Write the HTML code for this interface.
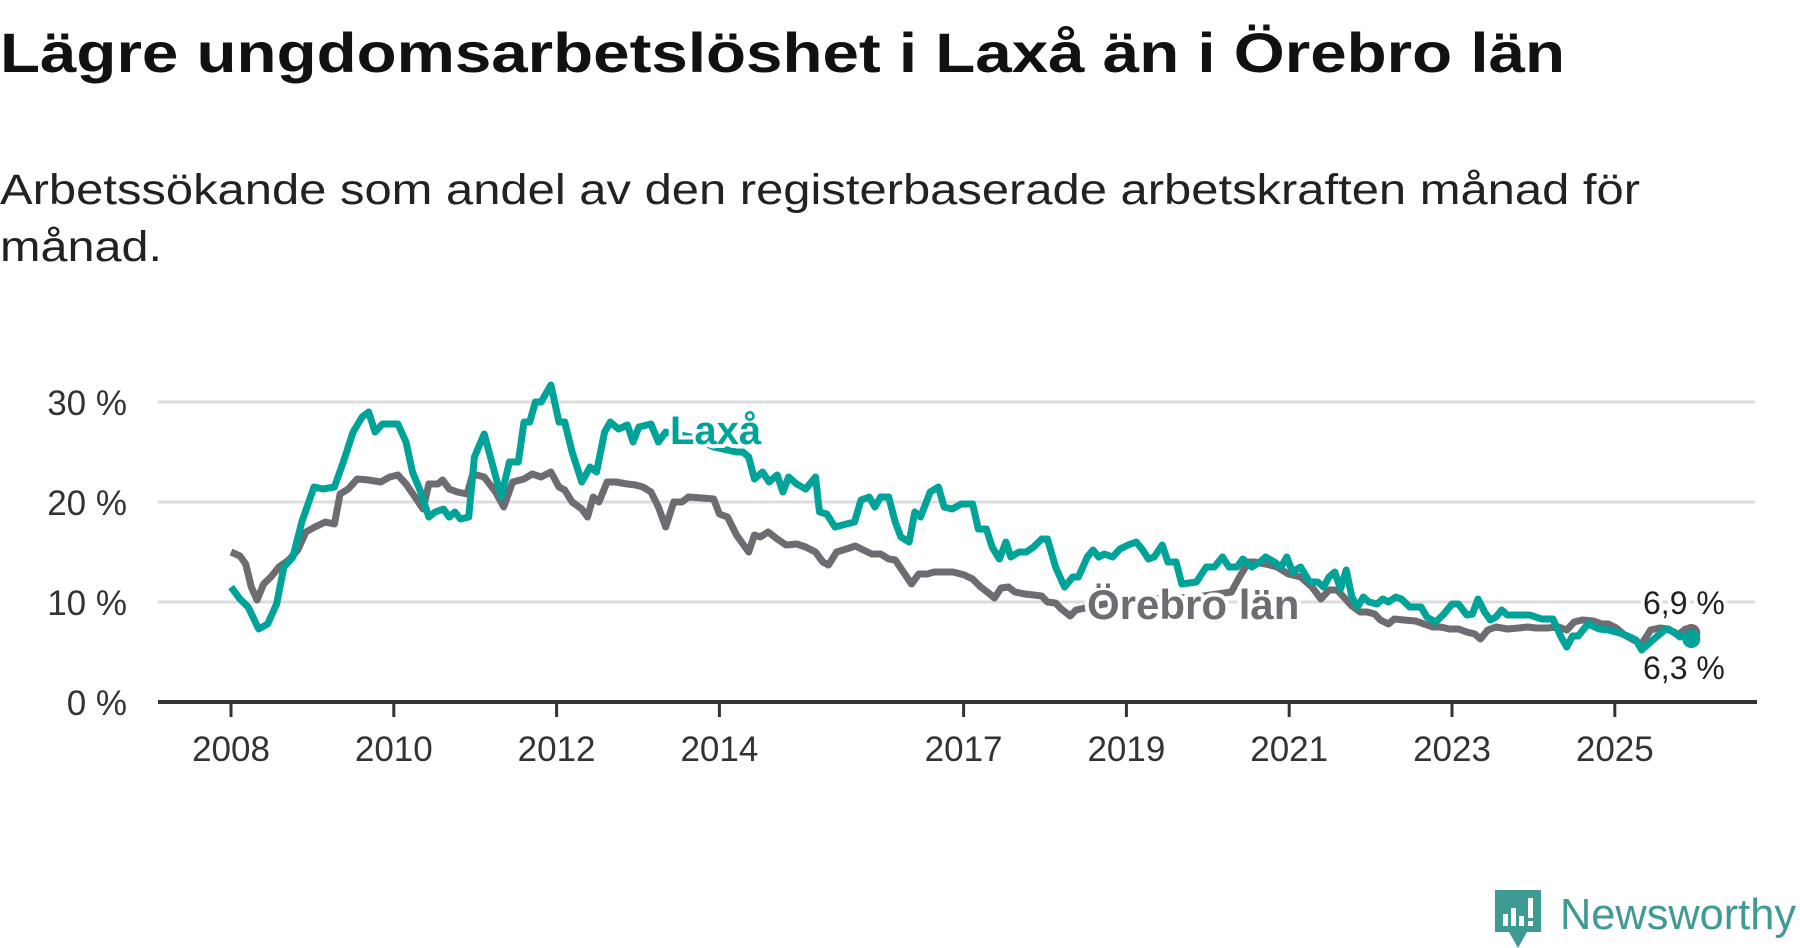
<!DOCTYPE html>
<html><head><meta charset="utf-8"><style>
html,body{margin:0;padding:0;background:#fff;}
svg{display:block;font-family:"Liberation Sans",sans-serif;}
</style></head><body>
<svg id="chart" width="1800" height="948" viewBox="0 0 1800 948">
<text x="0" y="72" font-size="56" font-weight="bold" fill="#111" textLength="1565" lengthAdjust="spacingAndGlyphs">Lägre ungdomsarbetslöshet i Laxå än i Örebro län</text>
<text x="0" y="204" font-size="43" fill="#222" textLength="1640" lengthAdjust="spacingAndGlyphs">Arbetssökande som andel av den registerbaserade arbetskraften månad för</text>
<text x="0" y="261" font-size="43" fill="#222" textLength="162" lengthAdjust="spacingAndGlyphs">månad.</text>
<g id="grid"></g><g id="axes"></g><g id="series"></g><g id="labels"></g>
<g>
<path d="M1495 890 h46 v42 h-14 l-9 16 l-9 -16 h-14 z" fill="#3f9a94"/>
<rect x="1503" y="914" width="5" height="12" fill="#fff"/><rect x="1511" y="908" width="5" height="18" fill="#fff"/><rect x="1519" y="916" width="5" height="10" fill="#fff"/><rect x="1528" y="898" width="5" height="20" fill="#fff"/><rect x="1528" y="921" width="5" height="5" fill="#fff"/>
<text x="1560" y="929" font-size="44" fill="#3f9a94" textLength="236" lengthAdjust="spacingAndGlyphs">Newsworthy</text>
</g>
</svg>
<script>
const yTicks=[0,10,20,30];
const yTickLabels=["0 %","10 %","20 %","30 %"];
const xTicks=[2008,2010,2012,2014,2017,2019,2021,2023,2025];
const laxaT=[0,0.11,0.21,0.34,0.45,0.56,0.65,0.76,0.87,1.02,1.13,1.27,1.38,1.5,1.61,1.69,1.77,1.86,2.05,2.15,2.23,2.33,2.43,2.51,2.61,2.68,2.75,2.82,2.92,2.99,3.11,3.22,3.32,3.42,3.53,3.6,3.67,3.74,3.81,3.93,4.03,4.1,4.19,4.31,4.41,4.49,4.59,4.66,4.76,4.87,4.94,5.01,5.16,5.25,5.34,5.65,5.93,6.21,6.29,6.36,6.43,6.53,6.61,6.71,6.78,6.85,6.95,7.06,7.18,7.23,7.32,7.42,7.56,7.66,7.74,7.84,7.91,7.98,8.08,8.16,8.23,8.33,8.4,8.47,8.59,8.69,8.76,8.86,8.97,9.11,9.18,9.28,9.35,9.44,9.52,9.58,9.68,9.77,9.86,9.96,10.03,10.13,10.24,10.34,10.41,10.52,10.59,10.66,10.73,10.83,10.92,11.02,11.12,11.2,11.27,11.34,11.44,11.51,11.61,11.68,11.86,11.98,12.08,12.18,12.26,12.36,12.43,12.54,12.64,12.71,12.82,12.9,12.97,13.04,13.14,13.25,13.35,13.42,13.49,13.56,13.63,13.7,13.77,13.84,13.91,13.98,14.08,14.15,14.22,14.31,14.38,14.48,14.62,14.69,14.8,14.9,15,15.08,15.18,15.25,15.32,15.4,15.47,15.54,15.61,15.68,15.96,16.1,16.24,16.34,16.41,16.48,16.55,16.67,16.81,16.92,17.06,17.16,17.26,17.33,17.51,17.63,17.73,17.8,17.87,17.94];
const laxaV=[11.5,10.3,9.5,7.3,7.8,9.8,13.5,14.5,18,21.5,21.3,21.5,24,27,28.5,29,27,27.8,27.8,26,23,21,18.5,19,19.3,18.5,19,18.3,18.5,24.5,26.8,23.5,20.5,24,24,28,28,30,30,31.7,28,28,25,22,23.5,23,27,28,27.3,27.7,26,27.5,27.8,26,27,26.5,25.5,25,25,24.5,22.3,23,22,22.7,21,22.5,21.8,21.3,22.5,19,18.8,17.5,17.8,18,20.2,20.5,19.5,20.5,20.5,18,16.5,16,19,18.5,21,21.5,19.5,19.3,19.8,19.8,17.3,17.3,15.5,14.3,16,14.5,15,15,15.5,16.3,16.3,13.5,11.5,12.5,12.5,14.5,15.2,14.5,14.8,14.5,15.3,15.7,16,15.2,14.3,14.5,15.7,14,14,11.8,12,13.5,13.5,14.5,13.5,13.5,14.3,13.5,14,14.5,14,13.5,14.5,13,13.5,12,12,11.5,12.5,13,11.3,13.2,10.5,9.5,10.5,10,9.8,10.3,10,10.5,10.3,9.5,9.5,8.5,8,8.8,9.8,9.8,8.7,8.8,10.3,9,8.2,8.5,9.2,8.7,8.7,8.3,8.3,6.5,5.5,6.6,6.6,7.8,7.3,7.2,6.9,6.6,6.2,5.2,6.5,7.3,7,6.5,7,6.3];
const orebroT=[0,0.11,0.18,0.25,0.32,0.4,0.49,0.59,0.71,0.82,0.92,1.03,1.16,1.27,1.34,1.44,1.55,1.69,1.84,1.95,2.05,2.15,2.26,2.36,2.43,2.54,2.6,2.68,2.78,2.9,2.97,3.11,3.25,3.35,3.46,3.6,3.7,3.81,3.93,4.03,4.1,4.19,4.31,4.38,4.45,4.52,4.62,4.73,4.87,4.97,5.06,5.16,5.25,5.34,5.44,5.54,5.62,5.79,5.93,6,6.1,6.21,6.36,6.43,6.5,6.6,6.71,6.82,6.95,7.06,7.18,7.27,7.34,7.44,7.56,7.67,7.77,7.87,7.98,8.08,8.16,8.26,8.36,8.45,8.55,8.64,8.76,8.87,9.01,9.11,9.21,9.29,9.38,9.46,9.55,9.63,9.75,9.86,9.96,10.03,10.13,10.2,10.31,10.38,10.73,11.3,11.86,12.29,12.39,12.5,12.57,12.71,12.85,12.99,13.14,13.28,13.39,13.49,13.59,13.67,13.77,13.87,13.96,14.05,14.12,14.22,14.29,14.41,14.55,14.66,14.76,14.86,14.97,15.08,15.18,15.28,15.35,15.44,15.54,15.68,15.82,15.93,16.03,16.17,16.31,16.41,16.5,16.6,16.74,16.84,16.92,17.02,17.12,17.23,17.33,17.44,17.55,17.66,17.77,17.87,17.94];
const orebroV=[15,14.6,13.8,11.5,10.2,11.8,12.5,13.5,14.2,15.2,17,17.5,18,17.8,20.8,21.3,22.3,22.2,22,22.5,22.7,21.8,20.5,19.3,21.8,21.8,22.2,21.3,21,20.8,22.8,22.5,21,19.5,22,22.3,22.8,22.5,23,21.5,21.2,20,19.3,18.5,20.5,20,22,22,21.8,21.7,21.5,21,19.5,17.5,20,20,20.5,20.4,20.3,18.8,18.5,16.7,15,16.7,16.5,17,16.3,15.7,15.8,15.5,15,14,13.7,15,15.3,15.6,15.2,14.8,14.8,14.3,14.2,13,11.8,12.8,12.8,13,13,13,12.7,12.3,11.5,11,10.4,11.4,11.5,11,10.8,10.7,10.6,10,9.9,9.3,8.6,9.2,9.8,10.3,10.5,11,12.5,14,14,13.8,13.5,12.8,12.5,11.5,10.3,11.2,11.2,10.5,9.6,9,9,8.8,8.2,7.8,8.3,8.2,8.1,7.8,7.5,7.5,7.3,7.3,7,6.8,6.3,7.2,7.5,7.3,7.4,7.5,7.4,7.4,7.5,7.2,8,8.2,8.1,7.8,7.8,7.4,6.7,6.2,5.8,7.2,7.4,7.3,6.7,7.3,6.9];

const NS="http://www.w3.org/2000/svg";
const X=yr=>231+(yr-2008)*81.4;
const Y=v=>702-v*10;
function mk(tag,attrs,parent){const e=document.createElementNS(NS,tag);for(const k in attrs)e.setAttribute(k,attrs[k]);parent.appendChild(e);return e;}
const grid=document.getElementById('grid'),axes=document.getElementById('axes'),series=document.getElementById('series'),labels=document.getElementById('labels');
yTicks.forEach((v,i)=>{
  if(v>0){const g=mk('line',{x1:158,x2:1755,y1:Y(v),y2:Y(v),stroke:'#dcdcdc','stroke-width':3},grid);
  
  }
  const t=mk('text',{x:127,y:Y(v)+13,'font-size':35,fill:'#333','text-anchor':'end'},axes);
  t.textContent=yTickLabels[i];
  
  
});
const ax=mk('line',{x1:158,x2:1757,y1:702,y2:702,stroke:'#333','stroke-width':4},axes);


xTicks.forEach(yr=>{
  const tk=mk('line',{x1:X(yr),x2:X(yr),y1:702,y2:717,stroke:'#333','stroke-width':3},axes);
  
  
  const t=mk('text',{x:X(yr),y:761,'font-size':35,fill:'#333','text-anchor':'middle'},axes);
  t.textContent=String(yr);
  
  
});
function line(T,V){return T.map((t,i)=>(i?'L':'M')+X(2008+t).toFixed(1)+' '+Y(V[i]).toFixed(1)).join(' ');}
const po=mk('path',{d:line(orebroT,orebroV),fill:'none',stroke:'#6d6c73','stroke-width':7,'stroke-linejoin':'round'},series);


const pl=mk('path',{d:line(laxaT,laxaV),fill:'none',stroke:'#00a398','stroke-width':7,'stroke-linejoin':'round'},series);


const lo=orebroT.length-1,ll=laxaT.length-1;
const d1=mk('circle',{cx:X(2008+orebroT[lo]),cy:Y(orebroV[lo]),r:9,fill:'#6d6c73'},series);


const d2=mk('circle',{cx:X(2008+laxaT[ll]),cy:Y(laxaV[ll]),r:9,fill:'#00a398'},series);


function lab(txt,x,y,size,color,bold,name){
  const t=mk('text',{x:x,y:y,'font-size':size,fill:color,'font-weight':bold?'bold':'normal',stroke:'#fff','stroke-width':8,'paint-order':'stroke','stroke-linejoin':'round'},labels);
  t.textContent=txt;
  
  
}
lab('Laxå',670,444,40,'#00a398',true,'laxa-label');
lab('Örebro län',1087,619,42,'#6d6c73',true,'orebro-label');
lab('6,9 %',1643,614,32,'#222',false,'orebro-end-value');
lab('6,3 %',1643,679,32,'#222',false,'laxa-end-value');
</script>
</body></html>
